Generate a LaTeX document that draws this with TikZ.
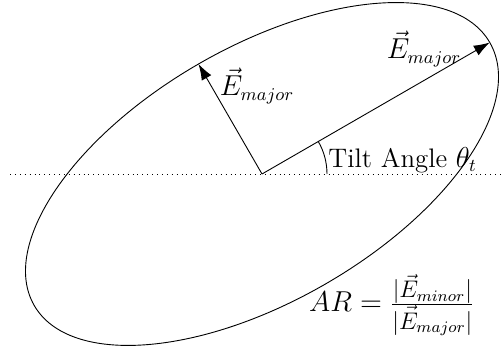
\documentclass[tikz,border=0pt]{standalone}
\usetikzlibrary{arrows.meta,calc}
\newcommand{\fracpart}[1]{\hbox{\fontsize{12}{14}\selectfont$#1$}}
\begin{document}
\begin{tikzpicture}[x=0.5pt,y=0.5pt,
  thinline/.style={line width=0.45pt},
  vec/.style={thinline,-{Latex[length=8pt,width=5.5pt]}},
  lbl/.style={inner sep=0pt,font=\fontsize{13.4}{15}\selectfont}]
\useasboundingbox (0,0) rectangle (503,352);
\coordinate (c) at (262,178);
\draw[thinline,dotted] (10,178) -- (503,178);
\draw[thinline,rotate around={30:(c)}] (c) ellipse [x radius=263, y radius=127];
\coordinate (maj) at ($(c)+(30:263)$);
\coordinate (mnr) at ($(c)+(120:127)$);
\draw[vec] (c) -- (maj);
\draw[vec] (c) -- (mnr);
\draw[thinline] ($(c)+(65,0)$) arc[start angle=0,end angle=30,radius=65];
\node[lbl,anchor=west] (tilt) at (328,192) {Tilt Angle $\theta_t$};
\node[lbl] (l1) at (424,303) {$\vec{E}_{major}$};
\node[lbl] (l2) at (257,266) {$\vec{E}_{major}$};
\node[lbl] (ar) at (392,47) {$AR=\frac{\fracpart{|\vec{E}_{minor}|}}{\fracpart{|\vec{E}_{major}|}}$};
\end{tikzpicture}
\end{document}
